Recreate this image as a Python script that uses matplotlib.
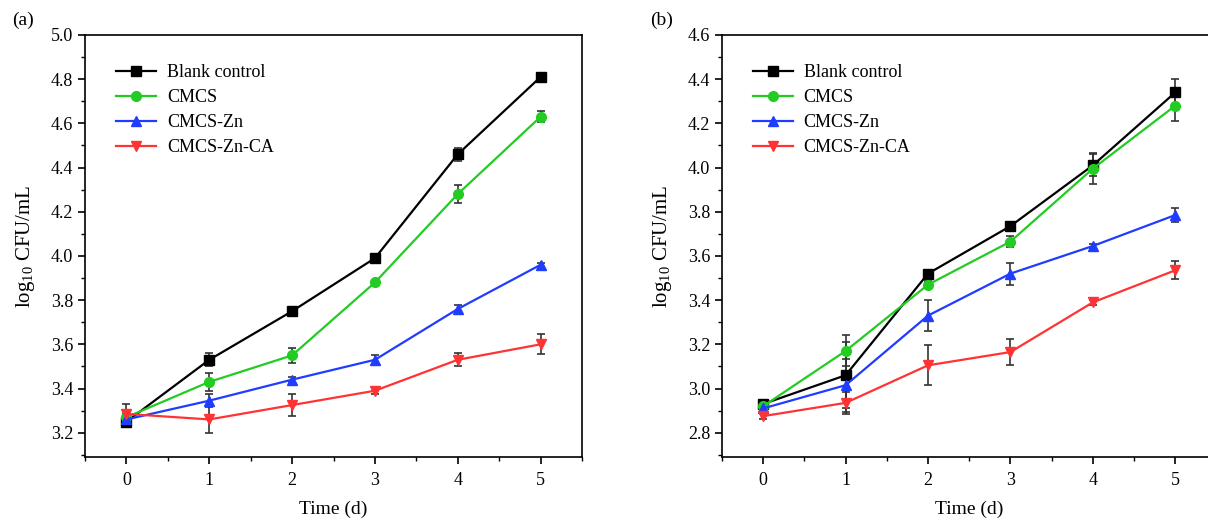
import matplotlib
matplotlib.use("Agg")
import matplotlib.pyplot as plt
from matplotlib.ticker import MultipleLocator

plt.rcParams['font.family'] = ['Liberation Serif', 'DejaVu Serif']
plt.rcParams['mathtext.fontset'] = 'custom'
plt.rcParams['mathtext.rm'] = 'Liberation Serif'

days = [0, 1, 2, 3, 4, 5]
series_names = ['Blank control', 'CMCS', 'CMCS-Zn', 'CMCS-Zn-CA']

# Panel (a)
a_blank = [3.25, 3.53, 3.75, 3.99, 4.46, 4.81]
a_cmcs = [3.27, 3.43, 3.55, 3.88, 4.28, 4.63]
a_zn = [3.26, 3.345, 3.44, 3.53, 3.76, 3.96]
a_ca = [3.285, 3.26, 3.325, 3.39, 3.53, 3.60]
a_blank_err = [0.02, 0.03, 0.01, 0.01, 0.03, 0.01]
a_cmcs_err = [0.02, 0.04, 0.035, 0.01, 0.04, 0.025]
a_zn_err = [0.01, 0.03, 0.012, 0.02, 0.02, 0.01]
a_ca_err = [0.045, 0.06, 0.05, 0.015, 0.03, 0.045]

# Panel (b)
b_blank = [2.93, 3.06, 3.52, 3.735, 4.01, 4.34]
b_cmcs = [2.92, 3.17, 3.47, 3.665, 3.995, 4.28]
b_zn = [2.91, 3.015, 3.33, 3.52, 3.645, 3.785]
b_ca = [2.875, 2.935, 3.105, 3.165, 3.39, 3.535]
b_blank_err = [0.015, 0.15, 0.015, 0.01, 0.05, 0.06]
b_cmcs_err = [0.01, 0.07, 0.015, 0.025, 0.07, 0.07]
b_zn_err = [0.01, 0.12, 0.07, 0.05, 0.01, 0.03]
b_ca_err = [0.015, 0.05, 0.09, 0.06, 0.01, 0.04]

colors = ['#000000', '#22cc22', '#1f3cff', '#ff3333']
markers = ['s', 'o', '^', 'v']

fig = plt.figure(figsize=(12.08, 5.23), dpi=100)
ax_a = fig.add_axes([0.0704, 0.1262, 0.4114, 0.8069])
ax_b = fig.add_axes([0.5977, 0.1262, 0.4093, 0.8069])

panels = [
    (ax_a, [a_blank, a_cmcs, a_zn, a_ca], [a_blank_err, a_cmcs_err, a_zn_err, a_ca_err],
     (3.09, 5.0), [3.2, 3.4, 3.6, 3.8, 4.0, 4.2, 4.4, 4.6, 4.8, 5.0]),
    (ax_b, [b_blank, b_cmcs, b_zn, b_ca], [b_blank_err, b_cmcs_err, b_zn_err, b_ca_err],
     (2.69, 4.6), [2.8, 3.0, 3.2, 3.4, 3.6, 3.8, 4.0, 4.2, 4.4, 4.6]),
]

for ax, ys, errs, ylim, yticks in panels:
    handles = []
    for y, e, c, m, n in zip(ys, errs, colors, markers, series_names):
        ax.errorbar(days, y, yerr=e, fmt='none', ecolor='#333333', elinewidth=1.2,
                    capsize=3, capthick=1.2, zorder=2)
        line, = ax.plot(days, y, color=c, marker=m, markersize=7, linewidth=1.6,
                        label=n, zorder=3)
        handles.append(line)
    ax.set_xlim(-0.5, 5.5)
    ax.set_ylim(*ylim)
    ax.set_xticks(days)
    ax.set_yticks(yticks)
    ax.set_yticklabels([f'{v:.1f}' for v in yticks])
    ax.xaxis.set_minor_locator(MultipleLocator(0.5))
    ax.yaxis.set_minor_locator(MultipleLocator(0.1))
    ax.tick_params(which='both', direction='out', top=False, right=False, labelsize=13)
    ax.tick_params(which='major', length=5, width=1.2)
    ax.tick_params(which='minor', length=3, width=1.0)
    ax.tick_params(axis='x', pad=6)
    for s in ax.spines.values():
        s.set_linewidth(1.2)
    ax.set_xlabel('Time (d)', fontsize=14, labelpad=8)
    ax.set_ylabel(r'log$_{10}$ CFU/mL', fontsize=15, labelpad=10)
    ax.legend(handles=handles, loc='upper left', bbox_to_anchor=(0.03, 0.97), frameon=False,
              fontsize=13, handlelength=2.2, labelspacing=0.45, handletextpad=0.6)

fig.text(12 / 1208, 1 - 20 / 523, '(a)', fontsize=14, va='center', ha='left')
fig.text(650 / 1208, 1 - 20 / 523, '(b)', fontsize=14, va='center', ha='left')

fig.savefig('out.png', dpi=100)
